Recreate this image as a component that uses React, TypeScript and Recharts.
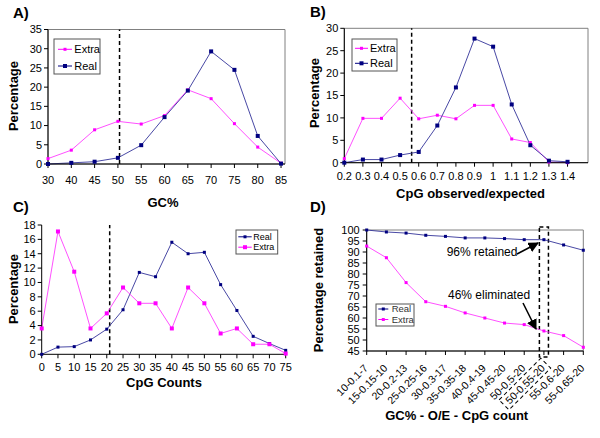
import { LineChart, Line, XAxis, YAxis, ReferenceLine, ReferenceArea } from "recharts";

const FONT = '"Liberation Sans", Arial, sans-serif';
const NAVY = "#000080";
const NAVY_LINE = "#33339a";
const MAGENTA = "#FF00FF";
const MAGENTA_LINE = "#ff3cff";

// A) GC content
const gcLabels = ["30", "40", "45", "50", "55", "60", "65", "70", "75", "80", "85"];
const gcReal = [0, 0.3, 0.6, 1.6, 4.9, 12.2, 19.1, 29.3, 24.5, 7.3, 0.1];
const gcExtra = [1.4, 3.6, 8.9, 11.1, 10.4, 12.6, 19.3, 17.0, 10.5, 4.4, 0.2];

// B) CpG observed/expected
const oeLabels = ["0.2", "0.3", "0.4", "0.5", "0.6", "0.7", "0.8", "0.9", "1", "1.1", "1.2", "1.3", "1.4"];
const oeReal = [0, 0.7, 0.7, 1.7, 2.4, 8.3, 16.8, 27.7, 25.9, 13.0, 3.9, 0.45, 0.2];
const oeExtra = [0.9, 9.9, 9.9, 14.4, 9.8, 10.6, 9.8, 12.8, 12.8, 5.3, 4.5, 0.15, 0];

// C) CpG counts
const cpgLabels = ["0", "5", "10", "15", "20", "25", "30", "35", "40", "45", "50", "55", "60", "65", "70", "75"];
const cpgReal = [0, 1.0, 1.07, 2.0, 3.5, 6.2, 11.4, 10.8, 15.6, 14.0, 14.2, 9.7, 6.1, 2.5, 1.5, 0.55];
const cpgExtra = [3.6, 17.1, 11.5, 3.6, 5.7, 9.3, 7.1, 7.1, 3.6, 9.3, 7.1, 2.9, 3.6, 1.4, 1.4, 0.1];

// D) thresholds
const stepLabels = [
  "10-0.1-7", "15-0.15-10", "20-0.2-13", "25-0.25-16", "30-0.3-17", "35-0.35-18",
  "40-0.4-19", "45-0.45-20", "50-0.5-20", "50-0.55-20", "55-0.6-20", "55-0.65-20",
];
const stepReal = [100, 99.1, 98.6, 97.6, 97.1, 96.4, 96.4, 96.1, 95.6, 95.6, 93.2, 90.8];
const stepExtra = [92.7, 87.4, 76.1, 67.4, 65.3, 62.3, 60.0, 57.7, 57.0, 54.1, 52.0, 46.7];

const build = (real: number[], extra: number[]) =>
  real.map((r, i) => ({ x: i, real: r, extra: extra[i] }));

const gcData = build(gcReal, gcExtra);
const oeData = build(oeReal, oeExtra);
const cpgData = build(cpgReal, cpgExtra);
const stepData = build(stepReal, stepExtra);

const range = (from: number, to: number, step: number) => {
  const out: number[] = [];
  for (let v = from; v <= to + 1e-9; v += step) out.push(v);
  return out;
};

const square = (color: string, size: number) => (props: any) => {
  const { cx, cy, index } = props;
  if (cx == null || cy == null) return <g key={`s-${index}`} />;
  return <rect key={`s-${index}`} x={cx - size / 2} y={cy - size / 2} width={size} height={size} fill={color} />;
};

const tickStyle = { fontSize: 11, fill: "#000", fontFamily: FONT };

function StepTick(props: any) {
  const { x, y, payload } = props;
  const label = stepLabels[payload.value] ?? "";
  return (
    <g transform={`translate(${x - 1},${y + 9})`}>
      <g transform="rotate(-45)">
        <text x={0} y={4} textAnchor="end" fontSize={10.5} fontFamily={FONT} fill="#000">{label}</text>
        {payload.value === 9 && (
          <rect x={-55} y={-7} width={59} height={14} fill="none" stroke="#000" strokeDasharray="4 3" />
        )}
      </g>
    </g>
  );
}

interface LegendItem { label: string; color: string; size: number }

function LegendBox({ x, y, w, h, items, rowY, lineX, textX, fontSize, textColor }: {
  x: number; y: number; w: number; h: number; items: LegendItem[]; rowY: number[];
  lineX: [number, number]; textX: number; fontSize: number; textColor?: string;
}) {
  return (
    <g>
      <rect x={x} y={y} width={w} height={h} fill="#fff" stroke="#555" strokeWidth={1} />
      {items.map((it, i) => (
        <g key={it.label}>
          <line x1={lineX[0]} x2={lineX[1]} y1={rowY[i]} y2={rowY[i]} stroke={it.color} strokeWidth={1} />
          <rect x={(lineX[0] + lineX[1]) / 2 - it.size / 2} y={rowY[i] - it.size / 2} width={it.size} height={it.size} fill={it.color} />
          <text x={textX} y={rowY[i] + fontSize * 0.36} fontSize={fontSize} fontFamily={FONT} fill={textColor ?? "#000"}>{it.label}</text>
        </g>
      ))}
    </g>
  );
}

const titleStyle = { fontFamily: FONT, fontWeight: 700, fill: "#000" } as const;

export default function App() {
  return (
    <div style={{ position: "absolute", left: 0, top: 0, width: 600, height: 438, background: "#fff", overflow: "hidden" }}>
      {/* A */}
      <div style={{ position: "absolute", left: 0, top: 0 }}>
        <LineChart width={300} height={215} data={gcData} margin={{ top: 29.5, right: 15, bottom: 21, left: 0 }}>
          <ReferenceArea x1={0} x2={10.17} y1={0} y2={35} fill="none" stroke="#808080" />
          <XAxis type="number" dataKey="x" domain={[0, 10.17]} ticks={range(0, 10, 1)} interval={0}
            tickFormatter={(v: number) => gcLabels[v]} tick={tickStyle} tickSize={4} tickMargin={8}
            stroke="#000" height={30} />
          <YAxis type="number" domain={[0, 35]} ticks={range(0, 35, 5)} interval={0} tick={tickStyle}
            tickSize={4} tickMargin={2} stroke="#000" width={48} />
          <ReferenceLine x={3.07} stroke="#000" strokeDasharray="4 3" strokeWidth={1.5} />
          <Line dataKey="extra" stroke={MAGENTA_LINE} strokeWidth={0.9} dot={square(MAGENTA, 3)} isAnimationActive={false} />
          <Line dataKey="real" stroke={NAVY_LINE} strokeWidth={0.9} dot={square(NAVY, 4)} isAnimationActive={false} />
        </LineChart>
      </div>

      {/* B */}
      <div style={{ position: "absolute", left: 300, top: 0 }}>
        <LineChart width={300} height={215} data={oeData} margin={{ top: 28.3, right: 12, bottom: 22.3, left: 0 }}>
          <ReferenceArea x1={0} x2={13.1} y1={0} y2={30} fill="none" stroke="#808080" />
          <XAxis type="number" dataKey="x" domain={[0, 13.1]} ticks={range(0, 12, 1)} interval={0}
            tickFormatter={(v: number) => oeLabels[v]} tick={tickStyle} tickSize={4} tickMargin={5}
            stroke="#000" height={30} />
          <YAxis type="number" domain={[0, 30]} ticks={range(0, 30, 5)} interval={0} tick={tickStyle}
            tickSize={4} tickMargin={2} stroke="#000" width={44.3} />
          <ReferenceLine x={3.62} stroke="#000" strokeDasharray="4 3" strokeWidth={1.5} />
          <Line dataKey="extra" stroke={MAGENTA_LINE} strokeWidth={0.9} dot={square(MAGENTA, 3)} isAnimationActive={false} />
          <Line dataKey="real" stroke={NAVY_LINE} strokeWidth={0.9} dot={square(NAVY, 4)} isAnimationActive={false} />
        </LineChart>
      </div>

      {/* C */}
      <div style={{ position: "absolute", left: 0, top: 215 }}>
        <LineChart width={300} height={223} data={cpgData} margin={{ top: 10, right: 14.3, bottom: 53.7, left: 0 }}>
          <XAxis type="number" dataKey="x" domain={[0, 15]} ticks={range(0, 15, 1)} interval={0}
            tickFormatter={(v: number) => cpgLabels[v]} tick={tickStyle} tickSize={4} tickMargin={5}
            stroke="#000" height={30} />
          <YAxis type="number" domain={[0, 18]} ticks={range(0, 18, 2)} interval={0} tick={tickStyle}
            tickSize={4} tickMargin={2} stroke="#000" width={41.7} />
          <ReferenceLine x={4.18} stroke="#000" strokeDasharray="4 3" strokeWidth={1.5} />
          <Line dataKey="real" stroke={NAVY_LINE} strokeWidth={0.9} dot={square(NAVY, 3)} isAnimationActive={false} />
          <Line dataKey="extra" stroke={MAGENTA_LINE} strokeWidth={0.9} dot={square(MAGENTA, 4)} isAnimationActive={false} />
        </LineChart>
      </div>

      {/* D */}
      <div style={{ position: "absolute", left: 300, top: 215 }}>
        <LineChart width={300} height={223} data={stepData} margin={{ top: 15, right: 16.7, bottom: 17, left: 0 }}>
          <ReferenceArea x1={0} x2={11} y1={45} y2={100} fill="none" stroke="#808080" />
          <XAxis type="number" dataKey="x" domain={[0, 11]} ticks={range(0, 11, 1)} interval={0}
            tick={<StepTick />} tickSize={4} tickMargin={2} stroke="#000" height={70} />
          <YAxis type="number" domain={[45, 100]} ticks={range(45, 100, 5)} interval={0} tick={tickStyle}
            tickSize={4} tickMargin={3} stroke="#000" width={66.7} />
          <ReferenceArea x1={8.77} x2={9.23} y1={42.3} y2={101.4} ifOverflow="visible" fill="none"
            stroke="#000" strokeDasharray="4 3" strokeWidth={1.5} />
          <Line dataKey="real" stroke={NAVY_LINE} strokeWidth={0.9} dot={square(NAVY, 3)} isAnimationActive={false} />
          <Line dataKey="extra" stroke={MAGENTA_LINE} strokeWidth={0.9} dot={square(MAGENTA, 3)} isAnimationActive={false} />
        </LineChart>
      </div>

      {/* titles, legends and notes */}
      <svg width={600} height={438} style={{ position: "absolute", left: 0, top: 0, pointerEvents: "none" }}>
        <defs>
          <marker id="arrow" viewBox="0 0 10 10" refX={9} refY={5} markerWidth={7} markerHeight={7} orient="auto-start-reverse">
            <path d="M0,0 L10,5 L0,10 z" fill="#000" />
          </marker>
        </defs>
        <text x={13} y={18} fontSize={15} {...titleStyle}>A)</text>
        <text x={310} y={17} fontSize={15} {...titleStyle}>B)</text>
        <text x={13} y={212} fontSize={15} {...titleStyle}>C)</text>
        <text x={310} y={212} fontSize={15} {...titleStyle}>D)</text>

        <text x={163} y={207} fontSize={13} textAnchor="middle" {...titleStyle}>GC%</text>
        <text x={18} y={96} fontSize={13} textAnchor="middle" transform="rotate(-90 18 96)" {...titleStyle}>Percentage</text>
        <text x={470.5} y={198} fontSize={13} textAnchor="middle" {...titleStyle}>CpG observed/expected</text>
        <text x={319} y={93} fontSize={13} textAnchor="middle" transform="rotate(-90 319 93)" {...titleStyle}>Percentage</text>
        <text x={164} y={387} fontSize={13} textAnchor="middle" {...titleStyle}>CpG Counts</text>
        <text x={17.5} y={289} fontSize={13} textAnchor="middle" transform="rotate(-90 17.5 289)" {...titleStyle}>Percentage</text>
        <text x={456.7} y={420} fontSize={13} textAnchor="middle" {...titleStyle}>GC% - O/E - CpG count</text>
        <text x={323} y={290} fontSize={13} textAnchor="middle" transform="rotate(-90 323 290)" {...titleStyle}>Percentage retained</text>

        <LegendBox x={54} y={39} w={46} h={35} rowY={[49.3, 66]} lineX={[58, 72]} textX={74.3} fontSize={11}
          items={[{ label: "Extra", color: MAGENTA, size: 3 }, { label: "Real", color: NAVY, size: 4 }]} />
        <LegendBox x={352} y={39} w={45} h={32} rowY={[48.3, 63.3]} lineX={[355, 368]} textX={370} fontSize={11}
          items={[{ label: "Extra", color: MAGENTA, size: 3 }, { label: "Real", color: NAVY, size: 4 }]} />
        <LegendBox x={236} y={230} w={41.7} h={24} rowY={[236.8, 247.2]} lineX={[238.3, 251.7]} textX={253.3} fontSize={9}
          items={[{ label: "Real", color: NAVY, size: 3 }, { label: "Extra", color: MAGENTA, size: 4 }]} />
        <LegendBox x={376} y={304} w={38} h={22} rowY={[309, 319.5]} lineX={[378.3, 388.3]} textX={391.7} fontSize={9.5}
          textColor="#333" items={[{ label: "Real", color: NAVY, size: 3 }, { label: "Extra", color: MAGENTA, size: 3 }]} />

        <text x={446.7} y={256} fontSize={12} fontFamily={FONT} fill="#000">96% retained</text>
        <line x1={517} y1={254} x2={538} y2={243} stroke="#000" strokeWidth={1.5} markerEnd="url(#arrow)" />
        <text x={448} y={299} fontSize={12} fontFamily={FONT} fill="#000">46% eliminated</text>
        <line x1={523} y1={303} x2={536} y2={329} stroke="#000" strokeWidth={1.5} markerEnd="url(#arrow)" />
      </svg>
    </div>
  );
}
